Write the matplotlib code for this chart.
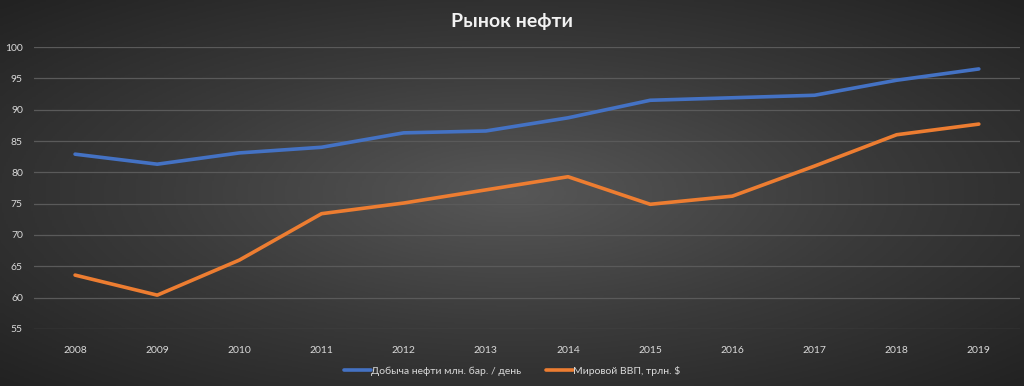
import numpy as np
import matplotlib
matplotlib.use('Agg')
from matplotlib import pyplot as plt
from matplotlib.colors import LinearSegmentedColormap

years = ['2008', '2009', '2010', '2011', '2012', '2013',
         '2014', '2015', '2016', '2017', '2018', '2019']
oil = [82.9, 81.3, 83.1, 84.0, 86.3, 86.6, 88.7, 91.5, 91.9, 92.3, 94.7, 96.5]
gdp = [63.6, 60.4, 66.0, 73.4, 75.1, 77.2, 79.3, 74.9, 76.2, 81.0, 86.0, 87.7]
labels = ['Добыча нефти млн. бар. / день', 'Мировой ВВП, трлн. $']

plt.rcParams['font.family'] = ['Lato', 'DejaVu Sans']

fig = plt.figure(figsize=(10.24, 3.86), dpi=100)

# radial gradient background
bg = fig.add_axes([0, 0, 1, 1], zorder=-10)
gx, gy = np.meshgrid(np.linspace(-1, 1, 512), np.linspace(-1, 1, 200))
r = np.sqrt(gx**2 + gy**2) / np.sqrt(2)
cmap = LinearSegmentedColormap.from_list('bg', ['#575757', '#3a3a3a', '#222222'])
bg.imshow(r, cmap=cmap, aspect='auto', extent=[0, 1, 0, 1])
bg.axis('off')

ax = fig.add_axes([0.0332, 0.1477, 0.9628, 0.7305])
ax.patch.set_alpha(0)
x = np.arange(len(years))
ax.plot(x, oil, color='#4472C4', linewidth=2.6, solid_capstyle='round', label=labels[0])
ax.plot(x, gdp, color='#ED7D31', linewidth=2.6, solid_capstyle='round', label=labels[1])

ax.set_xlim(-0.5, len(years) - 0.5)
ax.set_ylim(55, 100)
ax.set_yticks(range(55, 101, 5))
ax.set_xticks(x)
ax.set_xticklabels(years)
ax.yaxis.grid(True, color='#5a5a5a', linewidth=0.9)
ax.set_axisbelow(True)
for s in ax.spines.values():
    s.set_visible(False)
ax.tick_params(length=0, colors='#d9d9d9', labelsize=7.5)
ax.tick_params(axis='x', pad=12)
ax.tick_params(axis='y', pad=8)

fig.text(0.5, 0.945, 'Рынок нефти', ha='center', va='center',
         color='#f2f2f2', fontsize=14, fontweight='bold')

fig.legend(loc='center', bbox_to_anchor=(0.5, 0.04), ncol=2, frameon=False,
           fontsize=7.5, labelcolor='#d9d9d9', handlelength=2.6,
           handletextpad=0.0, columnspacing=2.4)

fig.savefig('out.png', dpi=100)
